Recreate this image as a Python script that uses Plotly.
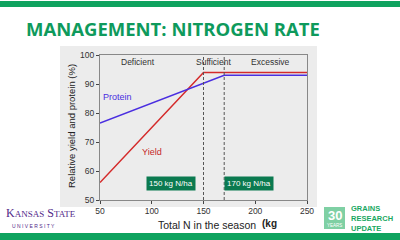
import plotly.graph_objects as go

# data
yield_x = [50, 150, 250]
yield_y = [56, 94, 94]
protein_x = [50, 170, 250]
protein_y = [76.5, 93, 93]
x_ticks = [50, 100, 150, 200, 250]
y_ticks = [50, 60, 70, 80, 90, 100]
thresholds = [150, 170]
zone_labels = ["Deficient", "Sufficient", "Excessive"]
zone_x = [87, 160, 215]
box_labels = ["150 kg N/ha", "170 kg N/ha"]
box_px = [146, 224]

W, H = 400, 240
L, R, T, B = 100, 93, 55, 40
pw, ph = W - L - R, H - T - B
def px(x):
    return (x - L) / pw
def py(y):
    return (H - B - y) / ph

GREEN = "#0e9a5c"
fig = go.Figure()
fig.add_trace(go.Scatter(x=yield_x, y=yield_y, mode="lines",
                         line=dict(color="#d42a2a", width=1.5), showlegend=False))
fig.add_trace(go.Scatter(x=protein_x, y=protein_y, mode="lines",
                         line=dict(color="#4a2ee0", width=1.5), showlegend=False))

shapes = []
shapes.append(dict(type="rect", xref="paper", yref="paper", x0=px(60), x1=px(317),
                   y0=py(207), y1=py(46), fillcolor="#ececec", line=dict(width=0), layer="below"))
shapes.append(dict(type="rect", xref="paper", yref="paper", x0=px(0), x1=px(400),
                   y0=py(7), y1=py(1), fillcolor="#0fa35f", line=dict(width=0)))
shapes.append(dict(type="rect", xref="paper", yref="paper", x0=px(0), x1=px(400),
                   y0=py(240), y1=py(233), fillcolor="#0fa35f", line=dict(width=0)))
for t in thresholds:
    shapes.append(dict(type="line", xref="x", yref="y", x0=t, x1=t, y0=50, y1=100,
                       line=dict(color="#555555", width=1, dash="3px,2px")))
shapes.append(dict(type="rect", xref="paper", yref="paper", x0=px(324), x1=px(345),
                   y0=py(229), y1=py(207), fillcolor="#7fd0a4", line=dict(width=0)))
shapes.append(dict(type="rect", xref="paper", yref="paper", x0=px(259), x1=px(276),
                   y0=py(233), y1=py(215), fillcolor="white", line=dict(width=0)))

ann = []
ann.append(dict(text="<b>MANAGEMENT: NITROGEN RATE</b>", xref="paper", yref="paper",
                x=px(24), y=py(28), xanchor="left", yanchor="middle", showarrow=False,
                font=dict(family="Open Sans", size=18.5, color=GREEN)))
for lab, zx in zip(zone_labels, zone_x):
    ann.append(dict(text=lab, x=zx, y=97.5, xref="x", yref="y", showarrow=False,
                    font=dict(family="Liberation Sans", size=8.5, color="#333333")))
ann.append(dict(text="Protein", x=67, y=85.5, xref="x", yref="y", showarrow=False,
                font=dict(family="Liberation Sans", size=9, color="#4a2ee0")))
ann.append(dict(text="Yield", x=100, y=66.5, xref="x", yref="y", showarrow=False,
                font=dict(family="Liberation Sans", size=9, color="#c62828")))
for lab, bx in zip(box_labels, box_px):
    ann.append(dict(text=lab, x=px(bx), y=py(191), xref="paper", yref="paper",
                    xanchor="left", showarrow=False, bgcolor="#0b7a50",
                    font=dict(family="Liberation Sans", size=8, color="white"),
                    borderpad=2))
ann.append(dict(text="Total N in the season", xref="paper", yref="paper", x=px(258), y=py(225),
                xanchor="right", yanchor="middle", showarrow=False,
                font=dict(family="Liberation Sans", size=10.5, color="#222222")))
ann.append(dict(text="<b>(kg</b>", xref="paper", yref="paper", x=px(260), y=py(224),
                xanchor="left", yanchor="middle", showarrow=False,
                font=dict(family="Liberation Sans", size=10, color="#222222")))
ann.append(dict(text="Relative yield and protein (%)", xref="paper", yref="paper", x=px(71), y=py(126),
                textangle=-90, xanchor="center", yanchor="middle", showarrow=False,
                font=dict(family="Liberation Sans", size=9.5, color="#222222")))
ann.append(dict(text="K<span style='font-size:9px'>ANSAS</span> S<span style='font-size:9px'>TATE</span>",
                xref="paper", yref="paper", x=px(4), y=py(213), xanchor="left", yanchor="middle",
                showarrow=False, font=dict(family="Liberation Serif", size=12, color="#512888")))
ann.append(dict(text="U N I V E R S I T Y", xref="paper", yref="paper", x=px(10), y=py(226),
                xanchor="left", yanchor="middle", showarrow=False,
                font=dict(family="Liberation Sans", size=5, color="#512888")))
ann.append(dict(text="<b>30</b>", xref="paper", yref="paper", x=px(334.5), y=py(215),
                xanchor="center", yanchor="middle", showarrow=False,
                font=dict(family="Liberation Sans", size=13, color="white")))
ann.append(dict(text="YEARS", xref="paper", yref="paper", x=px(334.5), y=py(225.5),
                xanchor="center", yanchor="middle", showarrow=False,
                font=dict(family="Liberation Sans", size=4.5, color="white")))
ann.append(dict(text="<b>GRAINS<br>RESEARCH<br>UPDATE</b>", xref="paper", yref="paper", x=px(349), y=py(218),
                xanchor="left", yanchor="middle", align="left", showarrow=False,
                font=dict(family="Liberation Sans", size=7.5, color="#18a862")))

fig.update_layout(
    width=W, height=H, margin=dict(l=L, r=R, t=T, b=B),
    paper_bgcolor="white", plot_bgcolor="#dedede",
    shapes=shapes, annotations=ann,
    xaxis=dict(range=[50, 250], tickvals=x_ticks, ticks="outside", ticklen=3,
               tickfont=dict(family="Liberation Sans", size=8.5, color="#333333"),
               showgrid=False, zeroline=False, showline=True, linecolor="#888888",
               mirror=True, linewidth=1),
    yaxis=dict(range=[50, 100], tickvals=y_ticks, ticks="outside", ticklen=3,
               tickfont=dict(family="Liberation Sans", size=8.5, color="#333333"),
               showgrid=False, zeroline=False, showline=True, linecolor="#888888",
               mirror=True, linewidth=1),
)
fig.write_html("out.html")
